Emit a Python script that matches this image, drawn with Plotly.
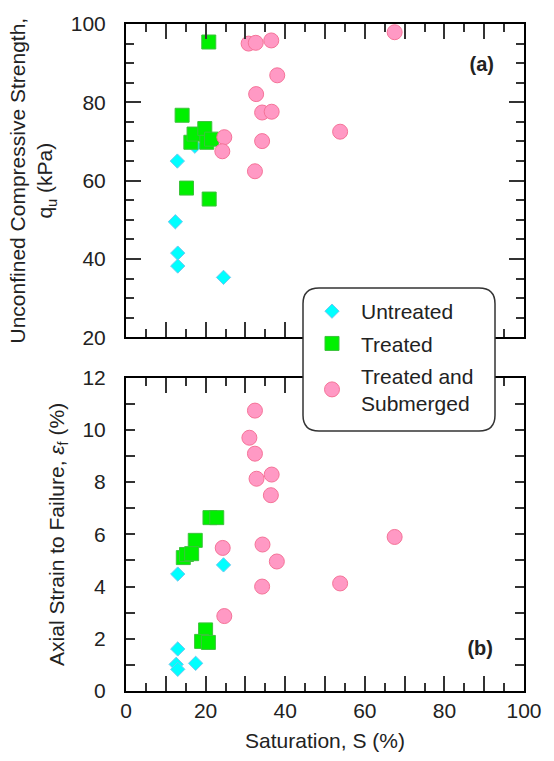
import plotly.graph_objects as go

# ---- data ----
# Panel (a): unconfined compressive strength q_u (kPa) vs saturation S (%)
untreated_S_a = [12.9, 12.4, 13.0, 13.0, 24.5, 17.3]
untreated_qu = [65.0, 49.5, 41.5, 38.2, 35.3, 68.8]

treated_S_a = [20.8, 14.1, 15.2, 20.9, 16.3, 17.1, 19.8, 20.3, 21.5]
treated_qu = [95.4, 76.7, 58.1, 55.3, 69.8, 71.9, 73.3, 69.8, 70.6]

submerged_S_a = [67.5, 30.8, 32.6, 36.5, 38.0, 32.7, 34.2, 36.6, 53.8, 24.7, 24.2, 34.2, 32.4]
submerged_qu = [97.9, 95.0, 95.2, 95.8, 86.9, 82.1, 77.4, 77.6, 72.5, 71.1, 67.5, 70.1, 62.4]

# Panel (b): axial strain to failure (%) vs saturation S (%)
untreated_S_b = [13.0, 24.5, 13.0, 12.6, 13.0, 17.5]
untreated_ef = [4.48, 4.83, 1.61, 1.02, 0.83, 1.06]

treated_S_b = [21.1, 22.8, 17.4, 14.4, 15.2, 16.5, 20.0, 19.0, 20.7]
treated_ef = [6.64, 6.64, 5.77, 5.11, 5.23, 5.26, 2.34, 1.90, 1.86]

submerged_S_b = [32.4, 31.0, 32.4, 32.8, 36.6, 36.4, 67.5, 24.3, 34.3, 37.9, 34.2, 53.8, 24.7]
submerged_ef = [10.74, 9.70, 9.09, 8.13, 8.29, 7.50, 5.90, 5.48, 5.61, 4.96, 4.00, 4.12, 2.87]

series_names = ["Untreated", "Treated", "Treated and<br>Submerged"]
panel_labels = ["<b>(a)</b>", "<b>(b)</b>"]

x_ticks = list(range(0, 101, 10))
x_ticktext = [str(v) if v % 20 == 0 else "" for v in x_ticks]
qu_ticks = [20, 40, 60, 80, 100]
ef_ticks = list(range(0, 13))
ef_ticktext = [str(v) if v % 2 == 0 else "" for v in ef_ticks]

# ---- styles ----
FONT = "Liberation Sans, Arial, sans-serif"
TXT = "#222222"
styles = [
    dict(symbol="diamond", size=11, color="#00FFFF", line=dict(color="#6FC8F0", width=1)),
    dict(symbol="square", size=14, color="#00F000", line=dict(color="#3CC23C", width=1)),
    dict(symbol="circle", size=15, color="#FF99C4", line=dict(color="#F57398", width=1)),
]

fig = go.Figure()
panel_a = [(untreated_S_a, untreated_qu), (treated_S_a, treated_qu), (submerged_S_a, submerged_qu)]
panel_b = [(untreated_S_b, untreated_ef), (treated_S_b, treated_ef), (submerged_S_b, submerged_ef)]
for i, (xs, ys) in enumerate(panel_a):
    fig.add_trace(go.Scatter(x=xs, y=ys, mode="markers", marker=styles[i], name=series_names[i],
                             legendgroup=str(i), showlegend=True, xaxis="x2", yaxis="y2"))
for i, (xs, ys) in enumerate(panel_b):
    fig.add_trace(go.Scatter(x=xs, y=ys, mode="markers", marker=styles[i], name=series_names[i],
                             legendgroup=str(i), showlegend=False, xaxis="x", yaxis="y"))

# panel labels (a), (b) placed in the upper/lower right of each panel
fig.add_trace(go.Scatter(x=[89.4], y=[89.2], mode="text", text=[panel_labels[0]], showlegend=False,
                         textfont=dict(family=FONT, size=20, color=TXT), hoverinfo="skip",
                         xaxis="x2", yaxis="y2"))
fig.add_trace(go.Scatter(x=[89.0], y=[1.58], mode="text", text=[panel_labels[1]], showlegend=False,
                         textfont=dict(family=FONT, size=20, color=TXT), hoverinfo="skip",
                         xaxis="x", yaxis="y"))

W, H = 554, 761
L, R, T, B = 126, 30, 15, 69
pw, ph = W - L - R, H - T - B


def px_x(px):
    return (px - L) / pw


def px_y(py):
    return (H - B - py) / ph


tickfont = dict(family=FONT, size=21, color=TXT)
titlefont = dict(family=FONT, size=21, color=TXT)
TC = "#333333"
frame = dict(showgrid=False, zeroline=False, showline=True, linecolor="black", linewidth=2,
             mirror="ticks", ticks="inside", tickwidth=2, tickcolor=TC)
minor_x = dict(dtick=5, ticklen=8, tickwidth=2, ticks="inside", tickcolor=TC)

fig.update_layout(
    width=W, height=H,
    margin=dict(l=L, r=R, t=T, b=B),
    paper_bgcolor="white", plot_bgcolor="white",
    font=dict(family=FONT, size=21, color=TXT),
    xaxis=dict(frame, range=[0, 100], domain=[0, 1], anchor="y", ticklen=15,
               tickvals=x_ticks, ticktext=x_ticktext, tickfont=tickfont, minor=minor_x,
               title=dict(text="Saturation, S (%)", font=titlefont, standoff=12)),
    yaxis=dict(frame, range=[0, 12], domain=[0, px_y(374)], anchor="x", ticklen=9,
               tickvals=ef_ticks, ticktext=ef_ticktext, tickfont=tickfont, ticklabelstandoff=14,
               title=dict(text="Axial Strain to Failure, <i>ε</i><sub>f</sub> (%)", font=titlefont,
                          standoff=12)),
    xaxis2=dict(frame, range=[0, 100], domain=[0, 1], anchor="y2", ticklen=15,
                tickvals=x_ticks, showticklabels=False, minor=minor_x),
    yaxis2=dict(frame, range=[20, 100], domain=[px_y(333), 1], anchor="x2", ticklen=15,
                tickvals=qu_ticks, tickfont=tickfont, ticklabelstandoff=14, minor=minor_x,
                title=dict(text="Unconfined Compressive Strength,<br>q<sub>u</sub> (kPa)",
                           font=titlefont, standoff=12)),
    showlegend=True,
    legend=dict(x=px_x(303), xanchor="left", y=px_y(286), yanchor="top",
                bgcolor="rgba(0,0,0,0)", borderwidth=0, itemwidth=48,
                font=dict(family=FONT, size=21, color=TXT), tracegroupgap=2),
)

# rounded legend frame
x0, x1, y0, y1 = px_x(303), px_x(495), px_y(428), px_y(283)
rx, ry = 16 / pw, 16 / ph
path = (f"M {x0 + rx},{y1} L {x1 - rx},{y1} Q {x1},{y1} {x1},{y1 - ry} "
        f"L {x1},{y0 + ry} Q {x1},{y0} {x1 - rx},{y0} L {x0 + rx},{y0} "
        f"Q {x0},{y0} {x0},{y0 + ry} L {x0},{y1 - ry} Q {x0},{y1} {x0 + rx},{y1} Z")
fig.add_shape(type="path", path=path, xref="paper", yref="paper", layer="above",
              fillcolor="white", line=dict(color="#333333", width=1.5))

fig.write_html("out.html")
